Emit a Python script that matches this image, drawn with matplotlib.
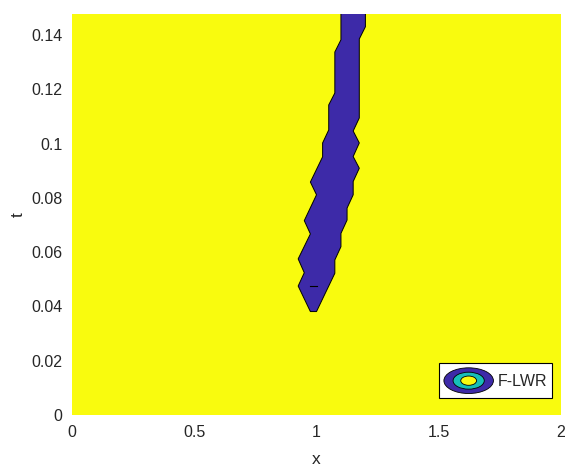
import numpy as np
import matplotlib
matplotlib.use('Agg')
import matplotlib.pyplot as plt
from matplotlib.patches import Ellipse
from matplotlib.legend_handler import HandlerBase

# boundary of the low-level region (x, t)
left_x = [1.100, 1.100, 1.075, 1.075, 1.050, 1.050, 1.025, 1.025, 0.975, 1.000,
          0.950, 0.975, 0.925, 0.950, 0.925, 0.975]
left_t = [0.1480, 0.1382, 0.1337, 0.1186, 0.1142, 0.1050, 0.1002, 0.0951, 0.0858, 0.0811,
          0.0716, 0.0667, 0.0575, 0.0524, 0.0475, 0.0381]
right_x = [1.200, 1.200, 1.175, 1.175, 1.150, 1.175, 1.150, 1.175, 1.150, 1.150,
           1.125, 1.125, 1.100, 1.100, 1.075, 1.075, 1.000]
right_t = [0.1480, 0.1430, 0.1385, 0.1094, 0.1046, 0.1002, 0.0952, 0.0909, 0.0860, 0.0811,
           0.0762, 0.0718, 0.0669, 0.0620, 0.0571, 0.0522, 0.0381]

# tiny contour segment inside the region
dash_x = [0.975, 1.000]
dash_t = [0.0475, 0.0475]

xlim = (0, 2)
tlim = (0, 0.1477)
xticks = [0, 0.5, 1, 1.5, 2]
tticks = [0, 0.02, 0.04, 0.06, 0.08, 0.1, 0.12, 0.14]

blue = '#3d2aa8'
cyan = '#17bfb8'
yellow = '#f9fb0e'
txt = '#262626'

plt.rcParams['font.family'] = ['Liberation Sans', 'DejaVu Sans']


class ContourHandler(HandlerBase):
    def create_artists(self, legend, orig_handle, xdescent, ydescent,
                       width, height, fontsize, trans):
        cx = width / 2 - xdescent
        cy = height / 2 - ydescent
        out = []
        for fw, fh, c in [(1.0, 1.0, blue), (0.63, 0.66, cyan), (0.32, 0.36, yellow)]:
            e = Ellipse((cx, cy), width * fw, height * fh, facecolor=c,
                        edgecolor='black', linewidth=0.6, transform=trans)
            out.append(e)
        return out


fig = plt.figure(figsize=(5.8, 4.7), dpi=100)
ax = fig.add_axes([72 / 580, 55 / 470, 489 / 580, 401 / 470])
ax.set_facecolor(yellow)

px = left_x + right_x[::-1]
pt = left_t + right_t[::-1]
ax.fill(px, pt, facecolor=blue, edgecolor='black', linewidth=0.7, zorder=2)
ax.plot(dash_x, dash_t, color='black', linewidth=0.8, zorder=3)

ax.set_xlim(*xlim)
ax.set_ylim(*tlim)
ax.set_xticks(xticks)
ax.set_xticklabels(['0', '0.5', '1', '1.5', '2'])
ax.set_yticks(tticks)
ax.set_yticklabels(['0', '0.02', '0.04', '0.06', '0.08', '0.1', '0.12', '0.14'])
ax.tick_params(length=0, labelsize=11.5, colors=txt, pad=7)
for s in ax.spines.values():
    s.set_visible(False)

ax.set_xlabel('x', fontsize=12.5, color=txt, labelpad=9)
ax.set_ylabel('t', fontsize=12.5, color=txt, labelpad=4)

proxy = Ellipse((0, 0), 1, 1)
leg = ax.legend([proxy], ['F-LWR'], handler_map={Ellipse: ContourHandler()},
                loc='lower right', bbox_to_anchor=(0.981, 0.0416),
                borderaxespad=0, fontsize=11.5, handlelength=3.1,
                handleheight=2.1, handletextpad=0.25, borderpad=0.3,
                fancybox=False, framealpha=1, edgecolor='black')
leg.get_frame().set_linewidth(0.8)
for t in leg.get_texts():
    t.set_color(txt)

fig.savefig('out.png', dpi=100)
